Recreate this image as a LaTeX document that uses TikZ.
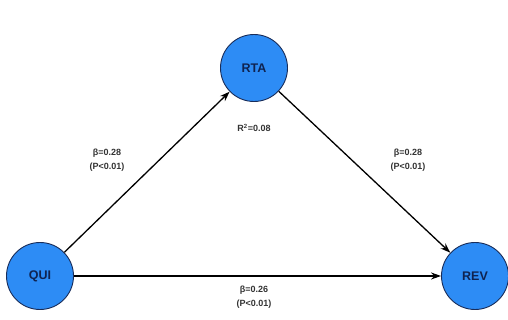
\documentclass[tikz,border=0pt]{standalone}
\usepackage{fontspec}
\setmainfont{Liberation Sans}
\usetikzlibrary{arrows.meta}
\definecolor{nodeblue}{RGB}{45,140,245}
\definecolor{nodeedge}{RGB}{25,45,90}
\definecolor{nodetext}{RGB}{15,35,80}
\begin{document}
\begin{tikzpicture}[x=1pt, y=1pt, >={Stealth[length=10pt,width=7pt]}, line width=1.3pt,main node/.style={circle,draw=nodeedge,fill=nodeblue,minimum size=67pt,inner sep=0pt,line width=0.9pt},coef/.style={align=center,font=\fontsize{9}{14}\selectfont\bfseries,text=black!80}]
\useasboundingbox (0,0) rectangle (508,320);
\begin{scope}[every node/.style={font=\fontsize{12.5}{14}\selectfont\bfseries,text=nodetext}]
\node [main node](qui) at (40,44) {QUI};
\node [main node](rta) at (254,252) {RTA};
\node [main node](rev) at (475,44) {REV};
\end{scope}
\draw [->] (qui) -- (rta);
\draw [->] (rta) -- (rev);
\draw [->] (qui) -- (rev);
\node [coef](c1) at (107,160) {β=0.28\\(P<0.01)};
\node [coef](c2) at (408,160) {β=0.28\\(P<0.01)};
\node [coef](c3) at (254,23) {β=0.26\\(P<0.01)};
\node [coef](r2) at (254,192) {R\textsuperscript{2}=0.08};
\end{tikzpicture}
\end{document}
